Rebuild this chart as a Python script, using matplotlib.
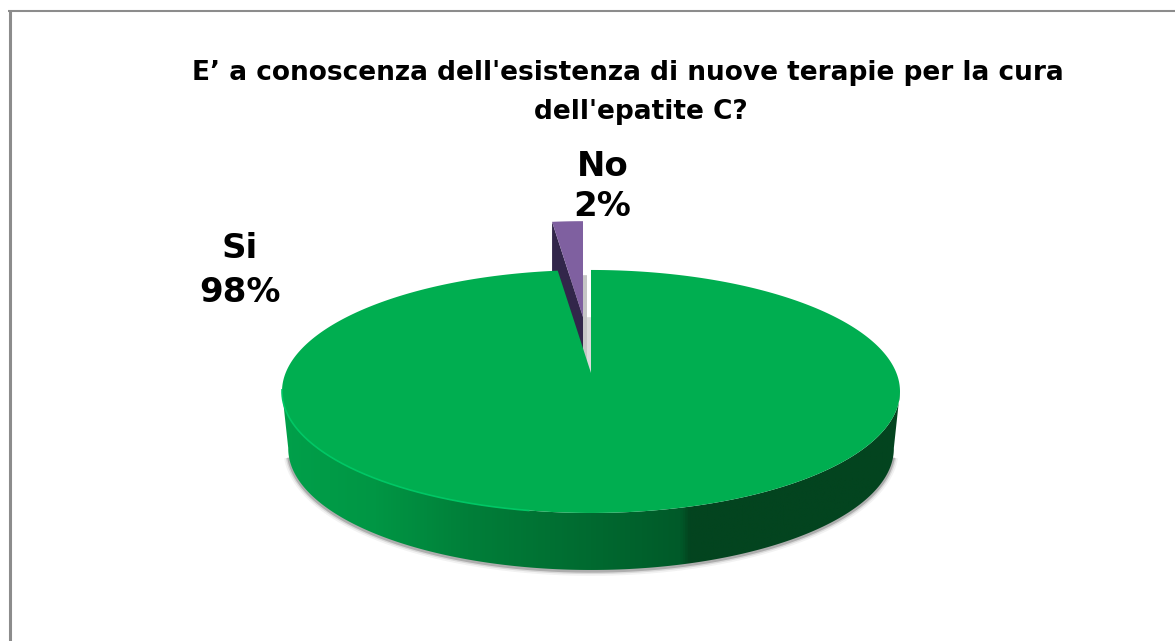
import numpy as np
import matplotlib
matplotlib.use('Agg')
import matplotlib.pyplot as plt
from matplotlib.colors import LinearSegmentedColormap
from matplotlib.patches import Polygon

categories = ['Si', 'No']
values = [98, 2]
title_lines = ["E’ a conoscenza dell'esistenza di nuove terapie per la cura", "dell'epatite C?"]

# pie geometry, in pixels of the figure
APEX = (591.0, 373.0)
SCALE_X = 305.4
PERSP_A = -118.7
PERSP_C = 0.152
DEPTH = 57
EXPLODE = (-8, -56)
EXPLODE_SCALE = 0.93

GREEN = '#00ae50'
PURPLE = '#7f60a0'
PURPLE_DARK = '#32264a'


def project(theta, scale=1.0):
    # theta in degrees, clockwise from the back of the disc
    t = np.radians(theta)
    u, v = np.sin(t), np.cos(t)
    w = 1 + PERSP_C * v
    return np.column_stack((APEX[0] + scale * SCALE_X * u / w, APEX[1] + scale * PERSP_A * v / w))


fig = plt.figure(figsize=(11.75, 6.41), dpi=100)
ax = fig.add_axes([0, 0, 1, 1])

no_angle = 360.0 * values[1] / sum(values)
si_theta = np.linspace(0, 360 - no_angle, 500)
no_theta = np.linspace(-no_angle, 0, 30)

# outer ring and the front half of the side wall
ring = project(np.linspace(0, 360, 721))[:-1]
i_right, i_left = ring[:, 0].argmax(), ring[:, 0].argmin()
front = ring[i_right:i_left + 1]
bottom = front.copy()
bottom[:, 0] = APEX[0] + 2 + (bottom[:, 0] - APEX[0] - 2) * 0.98
bottom[:, 1] += DEPTH
wall = np.vstack((front, bottom[::-1]))

# soft shadow round the wall
for lw, alpha in [(7, 0.07), (4.5, 0.14), (2.5, 0.3)]:
    ax.plot(bottom[8:-8, 0], bottom[8:-8, 1] + 1, color='#4a4a4a', lw=lw, alpha=alpha, zorder=1,
            solid_capstyle='butt')

# shaded side wall
cmap = LinearSegmentedColormap.from_list('wall', [
    (0.0, '#00a04a'), (0.15, '#009644'), (0.3, '#007f39'), (0.5, '#006a30'),
    (0.645, '#005a29'), (0.66, '#03441f'), (1.0, '#03441f')])
img = ax.imshow(np.linspace(0, 1, 512).reshape(1, -1), cmap=cmap, aspect='auto', zorder=2,
                extent=(wall[:, 0].min(), wall[:, 0].max(), wall[:, 1].max(), wall[:, 1].min()))
wall_patch = Polygon(wall, closed=True, facecolor='none', edgecolor='none', zorder=2)
ax.add_patch(wall_patch)
img.set_clip_path(wall_patch)

# detached slice: shadows, cut side, top face
no_face = np.vstack(([APEX], project(no_theta)))
no_face = APEX + (no_face - APEX) * EXPLODE_SCALE + EXPLODE
for dx, dy, col in [(9, 96, '#dcdcdc'), (4, 54, '#c6c6c6')]:
    ax.add_patch(Polygon(no_face + (dx, dy), closed=True, facecolor=col, edgecolor='none', zorder=3))
side = np.vstack((no_face[0], no_face[1], no_face[1] + (0, DEPTH), no_face[0] + (0, DEPTH)))
ax.add_patch(Polygon(side, closed=True, facecolor=PURPLE_DARK, edgecolor='none', zorder=4))
ax.add_patch(Polygon(no_face, closed=True, facecolor=PURPLE, edgecolor='none', zorder=5))

# large slice top face
si_face = np.vstack(([APEX], project(si_theta)))
ax.add_patch(Polygon(si_face, closed=True, facecolor=GREEN, edgecolor='none', zorder=6))

# bright rim on the front left
rim = project(np.linspace(190, 262, 150))
ax.plot(rim[:, 0], rim[:, 1], color='#00c765', lw=1.2, zorder=7)

# slice labels
ax.text(240, 248, categories[0], fontsize=24.5, fontweight='bold', ha='center', va='center', color='black', zorder=8)
ax.text(240, 292, '%d%%' % values[0], fontsize=24.5, fontweight='bold', ha='center', va='center', color='black', zorder=8)
ax.text(603, 167, categories[1], fontsize=24.5, fontweight='bold', ha='center', va='center', color='black', zorder=8)
ax.text(602, 207, '%d%%' % values[1], fontsize=24.5, fontweight='bold', ha='center', va='center', color='black', zorder=8)

ax.text(627.5, 73, title_lines[0], fontsize=19, fontweight='bold', ha='center', va='center', color='black')
ax.text(641, 112, title_lines[1], fontsize=19, fontweight='bold', ha='center', va='center', color='black')

# frame of the chart area, only top and left are in view
ax.plot([8, 1175], [11, 11], color='#8c8c8c', lw=1.5, zorder=9, solid_capstyle='butt')
ax.plot([9.5, 9.5], [10, 641], color='#8c8c8c', lw=2.2, zorder=9, solid_capstyle='butt')

ax.set_xlim(0, 1175)
ax.set_ylim(641, 0)
ax.axis('off')

fig.savefig('out.png', dpi=100, facecolor='white')
